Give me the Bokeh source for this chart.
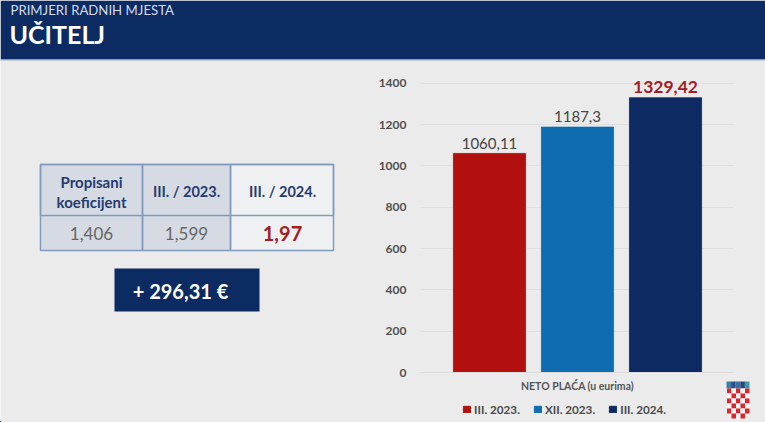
from bokeh.plotting import figure
from bokeh.models import BoxAnnotation, Label, Legend, LegendItem, FactorRange, Range1d, FixedTicker
from bokeh.core.properties import value
from bokeh.embed import file_html
from bokeh.resources import INLINE

categories = ["III. 2023.", "XII. 2023.", "III. 2024."]
values = [1060.11, 1187.3, 1329.42]
value_labels = ["1060,11", "1187,3", "1329,42"]
y_ticks = [0, 200, 400, 600, 800, 1000, 1200, 1400]
table_header = ["Propisani", "koeficijent", "III. / 2023.", "III. / 2024."]
table_values = ["1,406", "1,599", "1,97"]
difference = "+ 296,31 €"
x_title = "NETO PLAĆA (u eurima)"

W, H = 765, 422
FONT = "Lato"
BG = "#ebebeb"
NAVY = "#0d2b63"
bar_colors = ["#b20f0f", "#0f6cb0", "#0e2a63"]

# ---------- backdrop: frame fills the canvas, holds header, table, box, crest and legend
bg = figure(width=W, height=H, output_backend="svg", toolbar_location=None, x_axis_location=None, y_axis_location=None,
            x_range=Range1d(0, W), y_range=Range1d(0, H),
            min_border_left=0, min_border_right=0, min_border_top=0, min_border_bottom=0)
bg.background_fill_color = BG
bg.border_fill_color = BG
bg.outline_line_color = None
bg.grid.visible = False


def box(l, t, r, b, fill, line=None, lw=1):
    bg.add_layout(BoxAnnotation(left=l, right=r, top=H - t, bottom=H - b,
                                left_units="screen", right_units="screen", top_units="screen", bottom_units="screen",
                                fill_color=fill, fill_alpha=1 if fill else 0, line_color=line, line_width=lw,
                                line_alpha=1 if line else 0, level="annotation", editable=False))


def text(x, y, s, size, color, bold=True, align="center"):
    bg.add_layout(Label(x=x, y=H - y, x_units="screen", y_units="screen", text=s,
                        text_font=FONT, text_font_size=f"{size}px", text_color=color,
                        text_font_style="bold" if bold else "normal", text_align=align,
                        text_baseline="middle", level="overlay"))


box(0, 0, W, 59, NAVY)
box(0, 59, W, 60, "#9fb0c8")
text(10, 9, "PRIMJERI RADNIH MJESTA", 13.2, "#d5dcea", bold=False, align="left")
text(9, 33, "UČITELJ", 25, "#ffffff", align="left")

box(40, 164, 230, 250, "#d5dae3")
box(230, 164, 333, 250, "#eff0f2")
for c in [(40, 164, 142, 250), (142, 164, 230, 250), (230, 164, 333, 250), (40, 164, 333, 215)]:
    box(*c, None, "#7f9cc0", 1.5)
text(91, 181, table_header[0], 15, "#263b6e")
text(91, 201, table_header[1], 15, "#263b6e")
text(186, 191, table_header[2], 14.5, "#263b6e")
text(282, 191, table_header[3], 14.5, "#263b6e")
text(91, 233, table_values[0], 17, "#666666", bold=False)
text(186, 233, table_values[1], 17, "#666666", bold=False)
text(282, 233, table_values[2], 20, "#a51c24")

box(114, 268, 259, 311, NAVY)
text(180, 290, difference, 20, "#ffffff")

# crest
for i, c in enumerate(["#3e7fa5", "#2f4f8a", "#3a6fa0", "#274a80", "#3e9aa8"]):
    box(726 + i * 4.6, 381, 730.6 + i * 4.6, 388, c)
for row in range(6):
    for col in range(5):
        if row == 5 and col in (0, 4):
            continue
        box(726.5 + col * 4.5, 388 + row * 5, 731 + col * 4.5, 393 + row * 5,
            "#d6282e" if (row + col) % 2 == 0 else "#fbf6f6")

# legend swatches share the bars' colours; their own marks lie outside the backdrop's range
swatches = [bg.vbar(x=[-100], top=[1], width=1, fill_color=c, line_color=c) for c in bar_colors]
legend = Legend(items=[LegendItem(label=value(c), renderers=[r]) for c, r in zip(categories, swatches)],
                orientation="horizontal", location=(462, 6), background_fill_alpha=0, border_line_alpha=0,
                glyph_width=9, glyph_height=8, label_text_font=FONT, label_text_font_size="11.7px",
                label_text_font_style="bold", label_text_color="#4a4a4a", spacing=13, padding=0, margin=0,
                label_standoff=3, label_height=10)
bg.add_layout(legend, "center")

# ---------- chart: transparent, laid exactly over the backdrop
p = figure(width=W, height=H, output_backend="svg", toolbar_location=None,
           styles={"position": "absolute", "left": "0px", "top": "0px"},
           x_range=FactorRange(factors=categories, range_padding=0.284, range_padding_units="absolute"),
           y_range=Range1d(0, 1500), min_border_left=420, min_border_right=31,
           min_border_top=62, min_border_bottom=50)
p.background_fill_color = None
p.border_fill_color = None
p.outline_line_color = None

for cat, val, col in zip(categories, values, bar_colors):
    p.vbar(x=[cat], top=[val], width=0.82, fill_color=col, line_color=col, line_alpha=0.8)

label_styles = [("#444444", "15px", "normal", -4), ("#444444", "15px", "normal", -5), ("#a51c24", "17.5px", "bold", -5)]
for cat, val, lab, st in zip(categories, values, value_labels, label_styles):
    p.text(x=[cat], y=[val], text=[lab], text_font=value(FONT), text_color=st[0], text_font_size=value(st[1]),
           text_font_style=st[2], text_align="center", text_baseline="bottom", y_offset=st[3])

p.yaxis.ticker = FixedTicker(ticks=y_ticks)
p.yaxis.major_label_text_font = FONT
p.yaxis.major_label_text_font_size = "12px"
p.yaxis.major_label_text_font_style = "bold"
p.yaxis.major_label_text_color = "#505050"
p.yaxis.major_label_standoff = 8
p.yaxis.major_tick_line_color = None
p.yaxis.minor_tick_line_color = None
p.yaxis.axis_line_color = None
p.ygrid.grid_line_color = "#e0e0e0"
p.xgrid.grid_line_color = None

p.xaxis.ticker = FixedTicker(ticks=[])
p.xaxis.major_tick_line_color = None
p.xaxis.minor_tick_line_color = None
p.xaxis.axis_line_color = "#dcdcdc"
p.xaxis.axis_label = x_title
p.xaxis.axis_label_text_font = FONT
p.xaxis.axis_label_text_font_size = "10.5px"
p.xaxis.axis_label_text_font_style = "bold"
p.xaxis.axis_label_text_color = "#555555"
p.xaxis.axis_label_standoff = 7

open("out.html", "w").write(file_html([bg, p], INLINE))
